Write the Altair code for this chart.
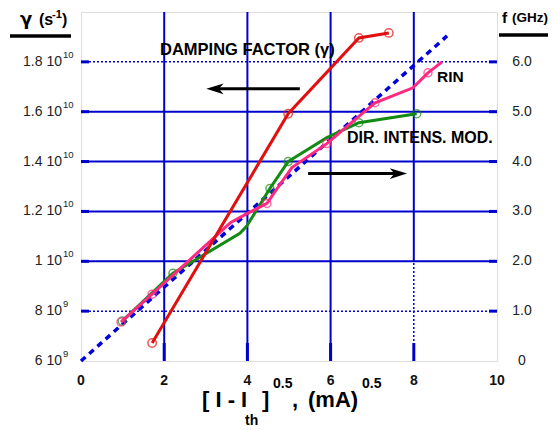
import altair as alt
import pandas as pd

# ---------------- data ----------------
# damping factor gamma (left axis, s^-1)
red_x = [1.71, 4.98, 6.68, 7.40]
red_gamma = [6.72e9, 1.592e10, 1.896e10, 1.916e10]

# direct intensity modulation (right axis, GHz)
green_x = [0.99, 2.21, 3.82, 3.98, 4.54, 4.98, 5.91, 6.68, 8.07]
green_f = [0.80, 1.76, 2.56, 2.70, 3.46, 4.00, 4.48, 4.78, 4.96]
green_mark = [1, 1, 0, 0, 1, 1, 0, 1, 1]

# RIN (right axis, GHz)
pink_x = [0.96, 1.71, 3.60, 4.00, 4.47, 4.80, 5.07, 5.91, 6.60, 7.07, 7.98, 8.34, 8.68]
pink_f = [0.78, 1.34, 2.78, 2.96, 3.16, 3.56, 3.88, 4.36, 4.85, 5.18, 5.48, 5.78, 6.00]
pink_mark = [1, 1, 0, 0, 1, 0, 0, 1, 0, 1, 0, 1, 0]

# linear fit (dashed, right axis)
fit_x = [0.0, 8.8]
fit_f = [0.0, 6.52]

# axis ticks / labels
x_ticks = [0, 2, 4, 6, 8, 10]
left_vals = [6e9, 8e9, 1e10, 1.2e10, 1.4e10, 1.6e10, 1.8e10]
left_base = ["6 10", "8 10", "1 10", "1.2 10", "1.4 10", "1.6 10", "1.8 10"]
left_exp = ["9", "9", "10", "10", "10", "10", "10"]
right_vals = [0, 1, 2, 3, 4, 5, 6]
right_labels = ["0", "1.0", "2.0", "3.0", "4.0", "5.0", "6.0"]

# annotation arrows (data coords: x, f)
arrow_left = [5.26, 3.30, 5.46]   # x_start, x_end, f
arrow_right = [5.46, 7.55, 3.76]

BLUE = "#0000CC"
RED = "#E01010"
GREEN = "#138A13"
PINK = "#FF2A80"
FONT = "Liberation Sans"

X = lambda f: alt.X(f, type="quantitative", scale=alt.Scale(domain=[0, 10], nice=False, zero=False), axis=None)
YF = lambda f: alt.Y(f, type="quantitative", scale=alt.Scale(domain=[0, 7], nice=False, zero=False), axis=None)
YG = lambda f: alt.Y(f, type="quantitative", scale=alt.Scale(domain=[6e9, 2e10], nice=False, zero=False), axis=None)

layers = []

# ---- grid lines ----
vgrid = pd.DataFrame({"x": [2, 4, 6, 8], "y1": [0, 0, 0, 2], "y2": [7, 7, 7, 7]})
layers.append(alt.Chart(vgrid).mark_rule(color=BLUE, strokeWidth=2).encode(
    x=X("x"), y=YF("y1"), y2=alt.Y2("y2")))
vdot = pd.DataFrame({"x": [8], "y1": [0], "y2": [2]})
layers.append(alt.Chart(vdot).mark_rule(color=BLUE, strokeWidth=1.5, strokeDash=[2, 2]).encode(
    x=X("x"), y=YF("y1"), y2=alt.Y2("y2")))
hgrid = pd.DataFrame({"f": [2, 3, 4, 5]})
layers.append(alt.Chart(hgrid).mark_rule(color=BLUE, strokeWidth=2).encode(
    y=YF("f"), x=alt.value(0), x2=alt.value(416)))
hdot = pd.DataFrame({"f": [1, 6]})
layers.append(alt.Chart(hdot).mark_rule(color=BLUE, strokeWidth=1.5, strokeDash=[2, 2]).encode(
    y=YF("f"), x=alt.value(0), x2=alt.value(416)))

# ---- inward ticks ----
tk = pd.DataFrame({"f": [1, 2, 3, 4, 5, 6]})
layers.append(alt.Chart(tk).mark_rule(color=BLUE, strokeWidth=3).encode(
    y=YF("f"), x=alt.value(0), x2=alt.value(8)))
layers.append(alt.Chart(tk).mark_rule(color=BLUE, strokeWidth=3).encode(
    y=YF("f"), x=alt.value(408), x2=alt.value(416)))
bt = pd.DataFrame({"x": [2, 4, 6, 8]})
layers.append(alt.Chart(bt).mark_rule(color=BLUE, strokeWidth=3).encode(
    x=X("x"), y=alt.value(349), y2=alt.value(331)))

# ---- series ----
fit = pd.DataFrame({"x": fit_x, "f": fit_f})
layers.append(alt.Chart(fit).mark_line(color="#0000DD", strokeWidth=3.5, strokeDash=[6, 5]).encode(
    x=X("x"), y=YF("f")))

green = pd.DataFrame({"x": green_x, "f": green_f, "m": green_mark})
layers.append(alt.Chart(green).mark_line(color=GREEN, strokeWidth=3).encode(x=X("x"), y=YF("f")))
layers.append(alt.Chart(green).transform_filter("datum.m == 1").mark_point(
    shape="circle", filled=False, color=GREEN, size=64, strokeWidth=1.5).encode(x=X("x"), y=YF("f")))

pink = pd.DataFrame({"x": pink_x, "f": pink_f, "m": pink_mark})
layers.append(alt.Chart(pink).mark_line(color=PINK, strokeWidth=3).encode(x=X("x"), y=YF("f")))
layers.append(alt.Chart(pink).transform_filter("datum.m == 1").mark_point(
    shape="circle", filled=False, color=PINK, size=64, strokeWidth=1.5).encode(x=X("x"), y=YF("f")))

red = pd.DataFrame({"x": red_x, "g": red_gamma})
layers.append(alt.Chart(red).mark_line(color=RED, strokeWidth=3).encode(x=X("x"), y=YG("g")))
layers.append(alt.Chart(red).mark_point(
    shape="circle", filled=False, color=RED, size=70, strokeWidth=1.5).encode(x=X("x"), y=YG("g")))

# ---- arrows ----
arr = pd.DataFrame({"x1": [arrow_left[0], arrow_right[0]], "x2": [arrow_left[1], arrow_right[1]],
                    "f": [arrow_left[2], arrow_right[2]]})
layers.append(alt.Chart(arr).mark_rule(color="black", strokeWidth=3).encode(
    x=X("x1"), x2=alt.X2("x2"), y=YF("f")))
headL = pd.DataFrame({"x": [arrow_left[1] - 0.08], "f": [arrow_left[2]]})
layers.append(alt.Chart(headL).mark_point(
    shape="M -1 0 L 1 -0.62 L 0.45 0 L 1 0.62 Z", filled=True, color="black", size=300, opacity=1,
    strokeWidth=0).encode(x=X("x"), y=YF("f")))
headR = pd.DataFrame({"x": [arrow_right[1] + 0.08], "f": [arrow_right[2]]})
layers.append(alt.Chart(headR).mark_point(
    shape="M 1 0 L -1 -0.62 L -0.45 0 L -1 0.62 Z", filled=True, color="black", size=300, opacity=1,
    strokeWidth=0).encode(x=X("x"), y=YF("f")))

# ---- annotation texts ----
def ptext(txt, x, y, size, bold=True, align="left", dy=0, font=FONT):
    return alt.Chart(pd.DataFrame({"t": [txt]})).mark_text(
        align=align, baseline="middle", fontSize=size, font=font,
        fontWeight="bold" if bold else "normal", color="black", dy=dy).encode(
        text="t:N", x=alt.value(x), y=alt.value(y))

layers.append(ptext("DAMPING FACTOR (γ)", 79, 38, 16.5))
layers.append(ptext("DIR. INTENS. MOD.", 266, 126, 16))
layers.append(ptext("RIN", 356, 65, 15.5))

# ---- axis labels ----
ldf = pd.DataFrame({"g": left_vals, "b": left_base, "e": left_exp})
layers.append(alt.Chart(ldf).mark_text(align="right", baseline="middle", fontSize=14, font=FONT,
                                       color="#222").encode(
    y=YG("g"), x=alt.value(-19), text="b:N"))
layers.append(alt.Chart(ldf).mark_text(align="left", baseline="middle", fontSize=9.5, font=FONT,
                                       color="#222", dy=-7).encode(
    y=YG("g"), x=alt.value(-18), text="e:N"))

rdf = pd.DataFrame({"f": right_vals, "t": right_labels})
layers.append(alt.Chart(rdf).mark_text(align="center", baseline="middle", fontSize=14, font=FONT,
                                       color="#222").encode(
    y=YF("f"), x=alt.value(441), text="t:N"))

xdf = pd.DataFrame({"x": x_ticks, "t": [str(v) for v in x_ticks]})
layers.append(alt.Chart(xdf).mark_text(align="center", baseline="middle", fontSize=14, font=FONT,
                                       fontWeight="bold", color="#111").encode(
    x=X("x"), y=alt.value(369), text="t:N"))

# ---- axis titles ----
layers.append(ptext("γ", -61, 8, 18, font="DejaVu Sans"))
layers.append(ptext("(s", -42, 8, 16))
layers.append(ptext("-1", -29, 3, 11))
layers.append(ptext(")", -19, 8, 16))
layers.append(alt.Chart(pd.DataFrame({"a": [0]})).mark_rule(color="black", strokeWidth=3.5).encode(
    x=alt.value(-71), x2=alt.value(-10), y=alt.value(24)))

layers.append(ptext("f", 421, 6, 15.5))
layers.append(ptext("(GHz)", 431, 6, 13.5))
layers.append(alt.Chart(pd.DataFrame({"a": [0]})).mark_rule(color="black", strokeWidth=3.5).encode(
    x=alt.value(418), x2=alt.value(470), y=alt.value(23)))

# x title pieces
layers.append(ptext("[ I - I", 121, 388, 22))
layers.append(ptext("th", 164, 409, 14))
layers.append(ptext("]", 181, 388, 22))
layers.append(ptext("0.5", 192, 372, 14))
layers.append(ptext(",", 211, 388, 22))
layers.append(ptext("(mA)", 227, 388, 22))
layers.append(ptext("0.5", 281, 372, 14))

chart = alt.layer(*layers).resolve_scale(y="independent").properties(
    width=416, height=349,
    autosize=alt.AutoSizeParams(type="none"),
    padding={"left": 73, "top": 4, "right": 51, "bottom": 67},
).configure_view(stroke=BLUE, strokeWidth=3.5).configure(background="white")

chart.save("out.html", embed_options={"renderer": "svg", "actions": False})
